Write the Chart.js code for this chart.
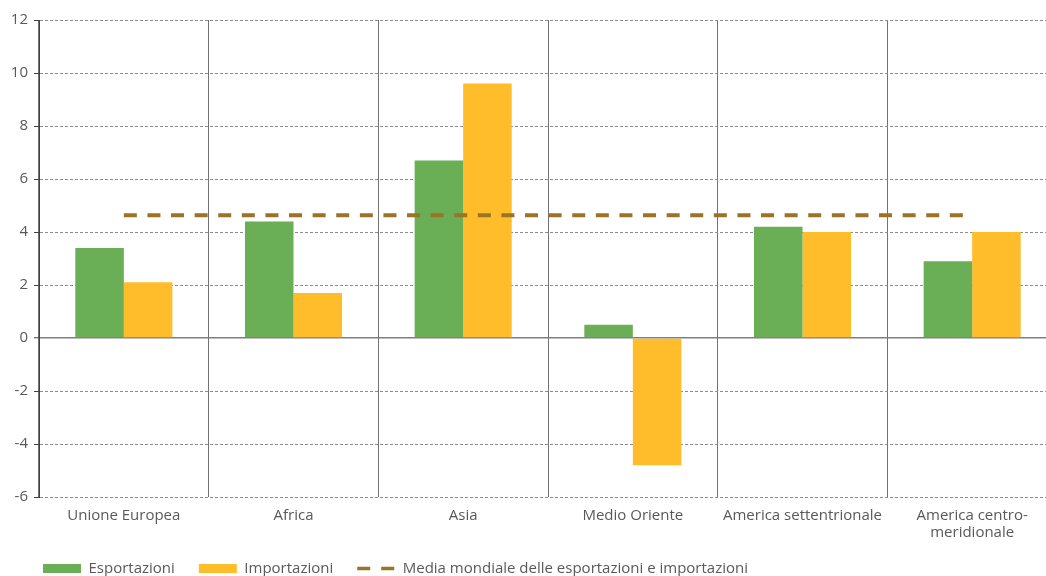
<!DOCTYPE html>
<html><head><meta charset="utf-8">
<script src="https://cdn.jsdelivr.net/npm/chart.js@4/dist/chart.umd.min.js"></script>
<style>
html,body{margin:0;padding:0;background:#fff;overflow:hidden}
#wrap{width:1046px;height:576px;overflow:hidden;position:relative;background:#fff}
canvas{display:block}
</style></head><body>
<div id="wrap"><canvas id="c" width="1070" height="586"></canvas></div>
<script>
const categories = ['Unione Europea', 'Africa', 'Asia', 'Medio Oriente', 'America settentrionale', ['America centro-', 'meridionale']];
const esportazioni = [3.4, 4.4, 6.7, 0.5, 4.2, 2.9];
const importazioni = [2.1, 1.7, 9.6, -4.8, 4.0, 4.0];
const mediaMondiale = [4.63, 4.63, 4.63, 4.63, 4.63, 4.63];
const yMin = -6, yMax = 12, yStep = 2;
const seriesNames = ['Esportazioni', 'Importazioni', 'Media mondiale delle esportazioni e importazioni'];

const GREEN = '#6AAF55', YELLOW = '#FFBD2B', BROWN = '#9A7326', TXT = '#595959';
const LINE_DASH = [13, 10.6];
Chart.defaults.font.family = "'Open Sans', sans-serif";
Chart.defaults.font.size = 15;
Chart.defaults.color = TXT;

const layoutTweak = {
  id: 'layoutTweak',
  afterLayout(chart) {
    if (chart.legend) { chart.legend.left = 19; }
    if (chart.scales.x) { chart.scales.x.bottom = chart.height; }
  }
};

new Chart(document.getElementById('c'), {
  type: 'bar',
  data: {
    labels: categories,
    datasets: [
      { label: seriesNames[0], data: esportazioni, backgroundColor: GREEN, borderWidth: 0, barPercentage: 1, categoryPercentage: 0.572 },
      { label: seriesNames[1], data: importazioni, backgroundColor: YELLOW, borderWidth: 0, barPercentage: 1, categoryPercentage: 0.572 },
      { type: 'line', label: seriesNames[2], data: mediaMondiale, borderColor: BROWN, backgroundColor: BROWN,
        borderWidth: 4, borderDash: LINE_DASH, pointRadius: 0, pointHoverRadius: 0, fill: false, order: -1 }
    ]
  },
  plugins: [layoutTweak],
  options: {
    responsive: false,
    devicePixelRatio: 1,
    animation: false,
    layout: { padding: { left: 0, right: 13, top: 20, bottom: 0 } },
    plugins: {
      tooltip: { enabled: false },
      legend: {
        position: 'bottom',
        align: 'start',
        labels: {
          usePointStyle: true,
          pointStyleWidth: 38,
          boxWidth: 38,
          boxHeight: 9,
          padding: 24,
          color: TXT,
          font: { size: 15 },
          sort: (a, b) => a.datasetIndex - b.datasetIndex,
          generateLabels: (chart) => Chart.defaults.plugins.legend.labels.generateLabels(chart).map(l => {
            const ds = chart.data.datasets[l.datasetIndex];
            if (ds.type === 'line') {
              l.pointStyle = 'line';
              l.lineDash = [13, 11];
              l.lineWidth = 3.5;
              l.strokeStyle = BROWN;
              l.fillStyle = BROWN;
            } else {
              l.pointStyle = 'rect';
              l.lineWidth = 0;
            }
            return l;
          })
        }
      }
    },
    scales: {
      x: {
        offset: true,
        grid: { offset: true, color: '#737373', lineWidth: 1, drawTicks: false },
        border: { display: false, dash: [] },
        ticks: { padding: 10, color: TXT, font: { size: 15, lineHeight: 1.15 }, maxRotation: 0, autoSkip: false },
        afterFit: (s) => { s.height = 40; }
      },
      y: {
        min: yMin, max: yMax,
        ticks: { stepSize: yStep, padding: 6, color: TXT, font: { size: 15 } },
        grid: {
          color: (c) => (c.tick && c.tick.value === 0) ? '#7f7f7f' : '#8c8c8c',
          lineWidth: (c) => (c.tick && c.tick.value === 0) ? 1.5 : 1,
          tickColor: '#404040', tickWidth: 1, tickLength: 5, tickBorderDash: []
        },
        border: {
          display: true, color: '#404040', width: 1,
          dash: (c) => (c.tick && c.tick.value === 0) ? [] : [3, 2]
        },
        afterFit: (s) => { s.width = 39; }
      }
    }
  }
});
</script>
</body></html>
